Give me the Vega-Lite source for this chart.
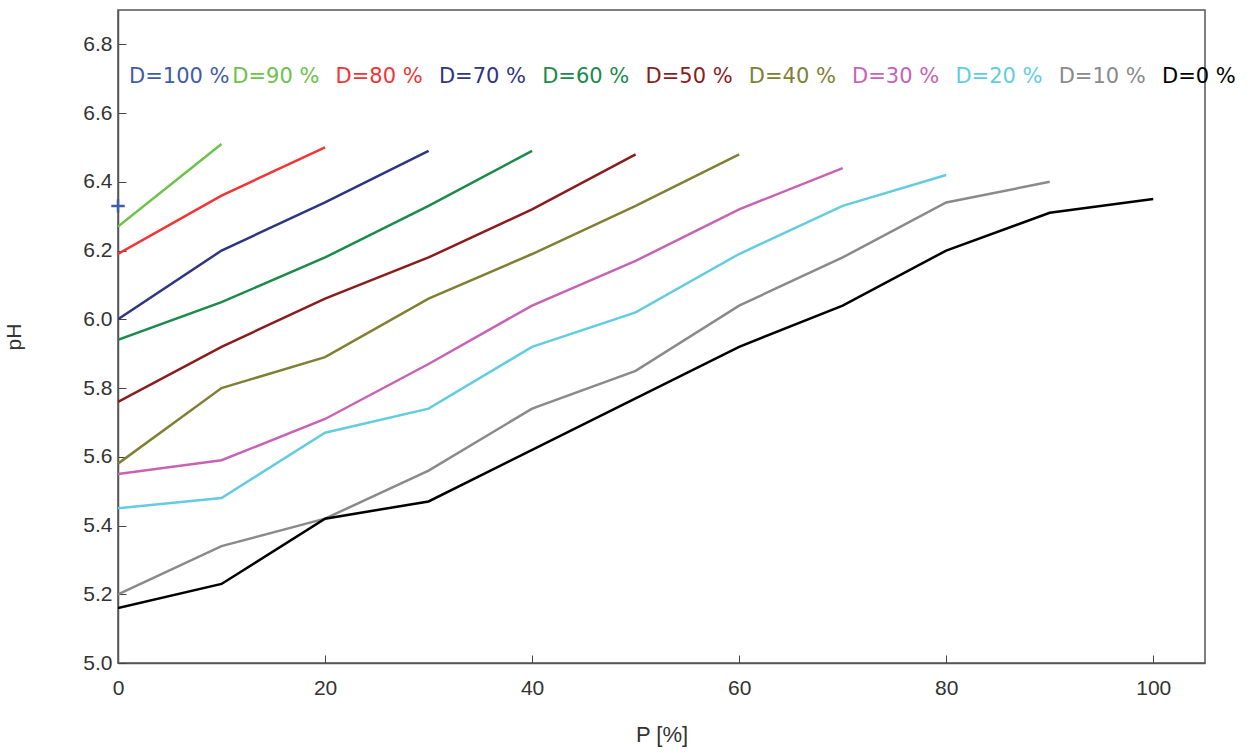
{
  "$schema": "https://vega.github.io/schema/vega-lite/v6.json",
  "width": 1087,
  "height": 653,
  "autosize": "none",
  "padding": {"left": 118, "top": 10, "right": 52, "bottom": 90},
  "background": "white",
  "config": {
    "view": {"stroke": "#555555", "strokeWidth": 1.5},
    "axis": {
      "domainColor": "#555555",
      "domainWidth": 1.5,
      "tickColor": "#444444",
      "tickSize": -8,
      "tickWidth": 1,
      "grid": false,
      "labelColor": "#333333",
      "titleColor": "#333333",
      "labelFont": "Liberation Sans",
      "titleFont": "Liberation Sans",
      "titleFontWeight": "normal"
    }
  },
  "data": {
    "values": [
      {"D": "D=100 %", "P": 0, "pH": 6.33},
      {"D": "D=90 %", "P": 0, "pH": 6.27},
      {"D": "D=90 %", "P": 10, "pH": 6.51},
      {"D": "D=80 %", "P": 0, "pH": 6.19},
      {"D": "D=80 %", "P": 10, "pH": 6.36},
      {"D": "D=80 %", "P": 20, "pH": 6.5},
      {"D": "D=70 %", "P": 0, "pH": 6.0},
      {"D": "D=70 %", "P": 10, "pH": 6.2},
      {"D": "D=70 %", "P": 20, "pH": 6.34},
      {"D": "D=70 %", "P": 30, "pH": 6.49},
      {"D": "D=60 %", "P": 0, "pH": 5.94},
      {"D": "D=60 %", "P": 10, "pH": 6.05},
      {"D": "D=60 %", "P": 20, "pH": 6.18},
      {"D": "D=60 %", "P": 30, "pH": 6.33},
      {"D": "D=60 %", "P": 40, "pH": 6.49},
      {"D": "D=50 %", "P": 0, "pH": 5.76},
      {"D": "D=50 %", "P": 10, "pH": 5.92},
      {"D": "D=50 %", "P": 20, "pH": 6.06},
      {"D": "D=50 %", "P": 30, "pH": 6.18},
      {"D": "D=50 %", "P": 40, "pH": 6.32},
      {"D": "D=50 %", "P": 50, "pH": 6.48},
      {"D": "D=40 %", "P": 0, "pH": 5.58},
      {"D": "D=40 %", "P": 10, "pH": 5.8},
      {"D": "D=40 %", "P": 20, "pH": 5.89},
      {"D": "D=40 %", "P": 30, "pH": 6.06},
      {"D": "D=40 %", "P": 40, "pH": 6.19},
      {"D": "D=40 %", "P": 50, "pH": 6.33},
      {"D": "D=40 %", "P": 60, "pH": 6.48},
      {"D": "D=30 %", "P": 0, "pH": 5.55},
      {"D": "D=30 %", "P": 10, "pH": 5.59},
      {"D": "D=30 %", "P": 20, "pH": 5.71},
      {"D": "D=30 %", "P": 30, "pH": 5.87},
      {"D": "D=30 %", "P": 40, "pH": 6.04},
      {"D": "D=30 %", "P": 50, "pH": 6.17},
      {"D": "D=30 %", "P": 60, "pH": 6.32},
      {"D": "D=30 %", "P": 70, "pH": 6.44},
      {"D": "D=20 %", "P": 0, "pH": 5.45},
      {"D": "D=20 %", "P": 10, "pH": 5.48},
      {"D": "D=20 %", "P": 20, "pH": 5.67},
      {"D": "D=20 %", "P": 30, "pH": 5.74},
      {"D": "D=20 %", "P": 40, "pH": 5.92},
      {"D": "D=20 %", "P": 50, "pH": 6.02},
      {"D": "D=20 %", "P": 60, "pH": 6.19},
      {"D": "D=20 %", "P": 70, "pH": 6.33},
      {"D": "D=20 %", "P": 80, "pH": 6.42},
      {"D": "D=10 %", "P": 0, "pH": 5.2},
      {"D": "D=10 %", "P": 10, "pH": 5.34},
      {"D": "D=10 %", "P": 20, "pH": 5.42},
      {"D": "D=10 %", "P": 30, "pH": 5.56},
      {"D": "D=10 %", "P": 40, "pH": 5.74},
      {"D": "D=10 %", "P": 50, "pH": 5.85},
      {"D": "D=10 %", "P": 60, "pH": 6.04},
      {"D": "D=10 %", "P": 70, "pH": 6.18},
      {"D": "D=10 %", "P": 80, "pH": 6.34},
      {"D": "D=10 %", "P": 90, "pH": 6.4},
      {"D": "D=0 %", "P": 0, "pH": 5.16},
      {"D": "D=0 %", "P": 10, "pH": 5.23},
      {"D": "D=0 %", "P": 20, "pH": 5.42},
      {"D": "D=0 %", "P": 30, "pH": 5.47},
      {"D": "D=0 %", "P": 40, "pH": 5.62},
      {"D": "D=0 %", "P": 50, "pH": 5.77},
      {"D": "D=0 %", "P": 60, "pH": 5.92},
      {"D": "D=0 %", "P": 70, "pH": 6.04},
      {"D": "D=0 %", "P": 80, "pH": 6.2},
      {"D": "D=0 %", "P": 90, "pH": 6.31},
      {"D": "D=0 %", "P": 100, "pH": 6.35}
    ]
  },
  "encoding": {
    "x": {
      "field": "P",
      "type": "quantitative",
      "scale": {"domain": [0, 105], "nice": false, "zero": false},
      "axis": {
        "title": "P [%]",
        "values": [0, 20, 40, 60, 80, 100],
        "labelFlush": false,
        "labelFontSize": 21,
        "labelPadding": 22,
        "titleFontSize": 22,
        "titlePadding": 26
      }
    },
    "y": {
      "field": "pH",
      "type": "quantitative",
      "scale": {"domain": [5.0, 6.9], "nice": false, "zero": false},
      "axis": {
        "title": "pH",
        "values": [5.0, 5.2, 5.4, 5.6, 5.8, 6.0, 6.2, 6.4, 6.6, 6.8],
        "format": ".1f",
        "labelFlush": false,
        "labelFontSize": 21,
        "labelPadding": 14,
        "titleFontSize": 21,
        "titlePadding": 58
      }
    },
    "color": {
      "field": "D",
      "type": "nominal",
      "scale": {
        "domain": ["D=100 %", "D=90 %", "D=80 %", "D=70 %", "D=60 %", "D=50 %", "D=40 %", "D=30 %", "D=20 %", "D=10 %", "D=0 %"],
        "range": ["#3f5cab", "#6cc24a", "#f23434", "#2e3582", "#1b8a4a", "#8b1c1c", "#808035", "#c862b4", "#62cde0", "#8a8a8a", "#000000"]
      },
      "legend": {
        "title": null,
        "orient": "none",
        "legendX": 12,
        "legendY": 56,
        "direction": "horizontal",
        "columns": 11,
        "gridAlign": "all",
        "columnPadding": 2.3,
        "symbolSize": 0,
        "symbolOpacity": 0,
        "symbolStrokeWidth": 0,
        "labelOffset": -22,
        "labelFont": "DejaVu Sans",
        "labelFontSize": 21,
        "labelLimit": 300,
        "encode": {
          "labels": {"update": {"fill": {"scale": "color", "field": "value"}}}
        }
      }
    }
  },
  "layer": [
    {
      "mark": {"type": "line", "strokeWidth": 2.5, "clip": true},
      "encoding": {"detail": {"field": "D"}}
    },
    {
      "transform": [{"filter": "datum.D === 'D=100 %'"}],
      "mark": {
        "type": "point",
        "shape": "M-1,0H1M0,-1V1",
        "filled": false,
        "size": 180,
        "strokeWidth": 2.5,
        "opacity": 1
      }
    }
  ]
}
